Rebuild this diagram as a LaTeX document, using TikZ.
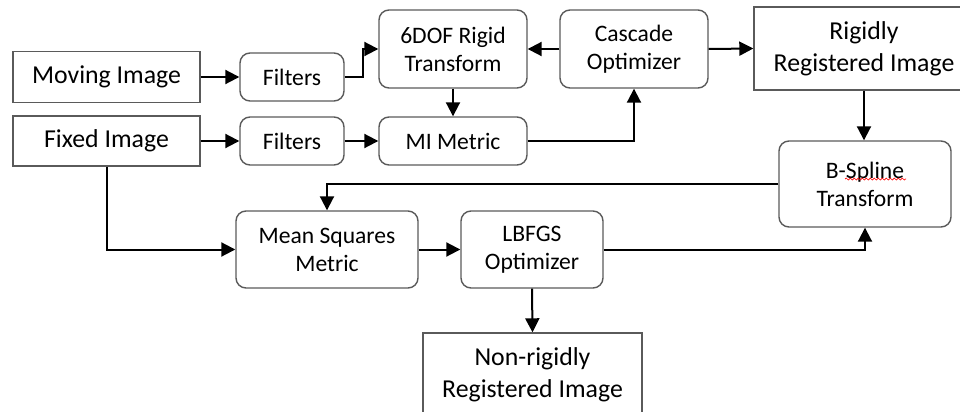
\documentclass[tikz,border=0pt]{standalone}
\usepackage{fontspec}
\setmainfont{Carlito}
\usetikzlibrary{arrows.meta,decorations.pathmorphing}
\definecolor{boxgray}{HTML}{5A5A5A}
\tikzset{
  sqbox/.style={draw=boxgray, line width=0.7pt, align=center, inner sep=0pt,
    font=\fontsize{12.9}{16}\selectfont},
  rbox/.style={draw=boxgray, line width=0.7pt, rounded corners=5pt, align=center, inner sep=0pt,
    font=\fontsize{11.8}{14}\selectfont},
  conn/.style={line width=1pt, -{Triangle[length=7pt,width=7pt]}}
}
\begin{document}
\begin{tikzpicture}[x=0.5pt,y=-0.5pt]
\useasboundingbox (0,0) rectangle (960,412);
% square boxes
\node[sqbox, minimum width=93.5pt, minimum height=25.5pt] (mov) at (106.5,77) {Moving Image};
\node[sqbox, minimum width=93.5pt, minimum height=25pt] (fix) at (106.5,141) {Fixed Image};
\node[sqbox, minimum width=110pt, minimum height=41.5pt] (rig) at (864,48.5) {Rigidly\\Registered Image};
\node[sqbox, minimum width=109.5pt, minimum height=41.5pt] (nr) at (532.5,374.5) {Non-rigidly\\Registered Image};
% rounded boxes
\node[rbox, minimum width=52pt, minimum height=24pt] (f1) at (292,77) {Filters};
\node[rbox, minimum width=52pt, minimum height=24pt] (f2) at (292,141) {Filters};
\node[rbox, minimum width=74pt, minimum height=39pt] (dof) at (453,49) {6DOF Rigid\\Transform};
\node[rbox, minimum width=74pt, minimum height=24pt] (mi) at (453,141) {MI Metric};
\node[rbox, minimum width=74pt, minimum height=39pt] (cas) at (634,49) {Cascade\\Optimizer};
\node[rbox, minimum width=86pt, minimum height=43pt] (bsp) at (865,184) {B-Spline\\Transform};
\node[rbox, minimum width=91pt, minimum height=38.5pt] (ms) at (327,249.5) {Mean Squares\\Metric};
\node[rbox, minimum width=71pt, minimum height=38.5pt] (lb) at (532,249.5) {LBFGS\\Optimizer};
% spell-check underline
\coordinate (sqa) at (845,179);
\coordinate (sqb) at (906,179);
\draw[red, line width=0.35pt, decorate, decoration={snake, segment length=2pt, amplitude=0.5pt}] (sqa) -- (sqb);
% connectors
\draw[conn] (mov.east) -- (f1.west);
\draw[conn] (f1.east) -- ++(18,0) |- (dof.west);
\draw[conn] (dof.south) -- (mi.north);
\draw[conn] (cas.west) -- (dof.east);
\draw[conn] (cas.east) -- (rig.west);
\draw[conn] (fix.east) -- (f2.west);
\draw[conn] (f2.east) -- (mi.west);
\draw[conn] (mi.east) -| (cas.south);
\draw[conn] (rig.south) -- (rig.south |- bsp.north);
\draw[conn] (bsp.west) -| (ms.north);
\draw[conn] (fix.south) |- (ms.west);
\draw[conn] (ms.east) -- (lb.west);
\draw[conn] (lb.east) -| (bsp.south);
\draw[conn] (lb.south) -- (nr.north);
\end{tikzpicture}
\end{document}
